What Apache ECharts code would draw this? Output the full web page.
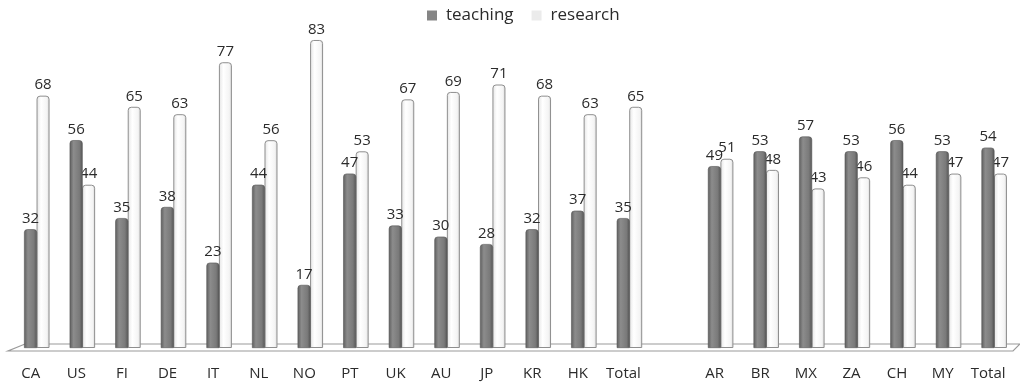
<!DOCTYPE html>
<html>
<head>
<meta charset="utf-8">
<script src="https://cdn.jsdelivr.net/npm/echarts@6/dist/echarts.min.js"></script>
<style>
  html, body { margin: 0; padding: 0; background: #ffffff; }
  #chart { width: 1020px; height: 384px; }
</style>
</head>
<body>
<div id="chart"></div>
<script>
// Country groups; the empty entry separates the two groups of countries.
const categories = ['CA', 'US', 'FI', 'DE', 'IT', 'NL', 'NO', 'PT', 'UK', 'AU', 'JP', 'KR', 'HK', 'Total',
  '', 'AR', 'BR', 'MX', 'ZA', 'CH', 'MY', 'Total'];
const teaching = [32, 56, 35, 38, 23, 44, 17, 47, 33, 30, 28, 32, 37, 35,
  '-', 49, 53, 57, 53, 56, 53, 54];
const research = [68, 44, 65, 63, 77, 56, 83, 53, 67, 69, 71, 68, 63, 65,
  '-', 51, 48, 43, 46, 44, 47, 47];
const seriesNames = ['teaching', 'research'];

const FONT = '"Open Sans", "Noto Sans", sans-serif';
const TEXT = '#2b2b2b';

const teachingFill = new echarts.graphic.LinearGradient(0, 0, 1, 0, [
  { offset: 0, color: '#5e5e5e' },
  { offset: 0.3, color: '#8c8c8c' },
  { offset: 0.75, color: '#7a7a7a' },
  { offset: 1, color: '#555555' }
]);
const researchFill = new echarts.graphic.LinearGradient(0, 0, 1, 0, [
  { offset: 0, color: '#e4e4e4' },
  { offset: 0.35, color: '#ffffff' },
  { offset: 0.8, color: '#f4f4f4' },
  { offset: 1, color: '#d6d6d6' }
]);

const chart = echarts.init(document.getElementById('chart'), null, { renderer: 'canvas' });

const valueLabel = {
  show: true,
  position: 'top',
  distance: 3,
  color: TEXT,
  fontFamily: FONT,
  fontSize: 15
};

chart.setOption({
  animation: false,
  backgroundColor: '#ffffff',
  legend: {
    data: [
      { name: seriesNames[0], itemStyle: { color: '#858585', borderWidth: 0 } },
      { name: seriesNames[1], itemStyle: { color: '#ebebeb', borderWidth: 0 } }
    ],
    top: 7,
    left: 427,
    padding: 0,
    itemWidth: 10,
    itemHeight: 10,
    itemGap: 18,
    icon: 'rect',
    textStyle: { fontFamily: FONT, fontSize: 17, color: TEXT, padding: [0, 0, 0, 4] }
  },
  grid: { left: 14, right: 3, top: 14, bottom: 36 },
  xAxis: {
    type: 'category',
    data: categories,
    axisTick: { show: false },
    axisLine: { show: false },
    axisLabel: {
      interval: 0,
      margin: 18,
      padding: [0, 12, 0, 0],
      color: TEXT,
      fontFamily: FONT,
      fontSize: 15
    }
  },
  yAxis: {
    type: 'value',
    min: 0,
    max: 90,
    show: false,
    splitLine: { show: false }
  },
  series: [
    {
      // floor plane under the bars, sized from the grid of the coordinate system
      type: 'custom',
      silent: true,
      z: 1,
      clip: false,
      data: [[0, 0]],
      renderItem: function (params, api) {
        const cs = params.coordSys;
        const base = api.coord([0, 0])[1];
        const l = cs.x, r = cs.x + cs.width;
        return {
          type: 'polygon',
          shape: {
            points: [
              [l - 6, base + 3],
              [r - 4, base + 3],
              [r + 3, base - 4],
              [l + 11, base - 4]
            ]
          },
          style: { fill: '#ffffff', stroke: '#9a9a9a', lineWidth: 1.2 }
        };
      }
    },
    {
      name: seriesNames[0],
      type: 'bar',
      data: teaching,
      barWidth: 13,
      barGap: '-4%',
      z: 3,
      itemStyle: {
        color: teachingFill,
        borderColor: '#555555',
        borderWidth: 0.6,
        borderRadius: [3, 3, 0, 0]
      },
      label: valueLabel
    },
    {
      name: seriesNames[1],
      type: 'bar',
      data: research,
      barWidth: 13,
      z: 2,
      itemStyle: {
        color: researchFill,
        borderColor: '#8e8e8e',
        borderWidth: 1,
        borderRadius: [3, 3, 0, 0]
      },
      label: valueLabel
    }
  ]
});
</script>
</body>
</html>
